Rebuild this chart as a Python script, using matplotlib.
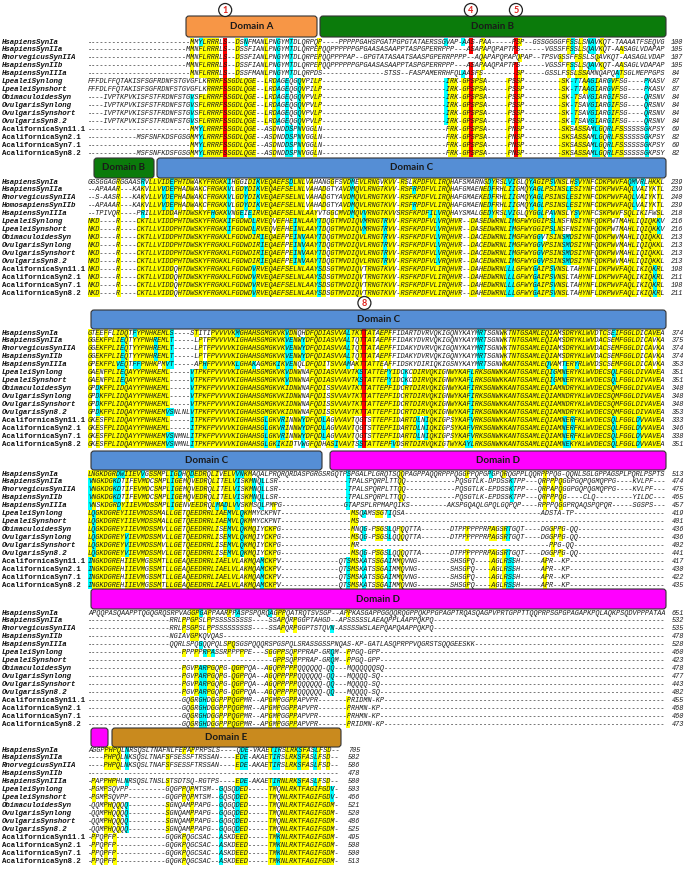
import matplotlib.pyplot as plt
from matplotlib.patches import FancyBboxPatch, Circle
from collections import Counter

# ---- data -------------------------------------------------------------
names = ["HsapiensSynIa", "HsapiensSynIIa", "RnorvegicusSynIIA", "HsapiensSynIIb",
         "HsapiensSynIIIa", "LpealeiSynlong", "LpealeiSynshort", "ObimaculoidesSyn",
         "OvulgarisSynlong", "OvulgarisSynshort", "OvulgarisSyn8.2",
         "AcalifornicaSyn11.1", "AcalifornicaSyn2.1", "AcalifornicaSyn7.1",
         "AcalifornicaSyn8.2"]
names_b2 = names[:3] + ["HomosapiensSynIIb"] + names[4:]

inv_a1 = "FFFDLFFQTAKISFSGFRDNFSTGVGFLKRRRFSSGDLQGE--LRDAGEQGQVPILP" + "-" * 30 + "IRK-GPSPSA-----PSSP" + "-" * 9 + "SK-TTAAGIARGVFSG----PKASV"
inv_a2 = "----IVPTKPVKISFSTFRDNFSTGVSFLRRRFSSGDLQGE--LRDAGEQGQVPVLP" + "-" * 30 + "IRK-GPSPSA-----PSSP" + "-" * 9 + "SK-TSAVGIARGIFSG----QRSNV"
inv_a3 = "-" * 25 + "MMYLRRRFSSGDLQGE--ASDNDDSPNVGGLN" + "-" * 30 + "FRK-GPSPSA-----PNSP" + "-" * 9 + "SKSASSAMLGQRLFSSSSSSGKPSY"
inv_a4 = "-" * 12 + "MSFSNFKDSFGSGMMYLRRRFSSGDLQGE--ASDNDDSPNVGGLN" + "-" * 30 + "FRK-GPSPSA-----PNSP" + "-" * 9 + "SKSASSAMLGQRLFSSSSSSGKPSY"
block_a = [
    "-" * 25 + "MMYLRRRLS--DSNFMANLPNGYMTDLQRPQP----PPPPPGAHSPGATPGPGTATAERSSGVAP-AAS-PAA-----PSP--GSSGGGGFFSSLSNAVKQT-TAAAATFSEQVG",
    "-" * 24 + "MMNFLRRRLS--DSSFIANLPNGYMTDLQRPEPQQPPPPPPGPGAASASAAPPTASPGPERRPPP---ASAPAPQPAPTPS------VGSSFFSSLSQAVKQT-AASAGLVDAPAP",
    "-" * 24 + "MMNFLRRRLS--DSSFIANLPNGYMTDLQRPEPQQPPPPAP--GPGTATASAATSAASPGPERRPPPP--AQAPAPQPAPQPAP--TPSVGSSFFSSLSQAVKQT-AASAGLVDAP",
    "-" * 24 + "MMNFLRRRLS--DSSFIANLPNGYMTDLQRPEPQQPPPPPPGPGAASASAAPPTASPGPERRPPP---ASAPAAQPAPTPS------VGSSFFSSLSQAVKQT-AASAGLVDAPAP",
    "-" * 25 + "MNFLRRRLS--DSSFMANLPNGYMTDLQRPDS" + "-" * 15 + "STSS--FASPAMERRHFQLAASFS" + "-" * 8 + "SP-----GSSLFSSLSSAMNQAPQATSGLMEPPGPS",
    inv_a1, inv_a1, inv_a2, inv_a2, inv_a2, inv_a2, inv_a3, inv_a4, inv_a3, inv_a4]

block_b = [
    "GGSGGAGRGGAASRVLLVIDEPHTDWAKYFRGKKIHGGIDIKVEQAEFSDLNLVAHANGGFSVDMEVLRNGVKVV-RSLKPDFVLIRQHAFSMARNGDYRSLVIGLQYAGIPSVNSLHSVYNFCDKPWVFAQMVRLHKKL",
    "--APAAAR---KAKVLLVVDEPHADWAKCFRGKKVLGDYDIKVEQAEFSELNLVAHADGTYAVDMQVLRNGTKVV-RSFRPDFVLIRQHAFGMAENEDFRHLIIGMQYAGLPSINSLESIYNFCDKPWVFAQLVAIYKTL",
    "--S-AASR---KAKVLLVVDEPHADWAKCFRGKKVLGDYDIKVEQAEFSELNLVAHADGTYAVDMQVLRNGTKVV-RSFKPDFVLIRQHAFGMAEKEDFRHLIIGMQYAGLPSINSLESIYNFCDKPWVFAQLVAIYKTL",
    "--APAAAR---KAKVLLVVDEPHADWAKCFRGKKVLGDYDIKVEQAEFSELNLVAHADGTYAVDMQVLRNGTKVV-RSFRPDFVLIRQHAFGMAENEDFRHLIIGMQYAGLPSINSLESIYNFCDKPWVFAQLVAIYKTL",
    "--TPIVQR----PRILLVIDDAHTDWSKYFHGKKVNGEIEIRVEQAEFSELNLAAYVTGGCMVDMQVVRNGTKVVSRSFKPDFILVRQHAYSMALGEDYRSLVIGLQYGGLPAVNSLYSVYNFCSKPWVFSQLIKIFWSL",
    "NKD----R----CKTLLVIDDPHTDWSKYFRGKKIFGDWDLRVEQVEFHEINLAAYTDQGTMVDIQVMRNGTRVV-RSFKPDFVLVRQHVR--DASEDWRNLIMGFWYGGIPSLNSFNSIYNFQDKPWTMAHLIQIQKKV",
    "NKD----R----CKTLLVIDDPHTDWSKYFRGKKIFGDWDLRVEQVEFHEINLAAYTDQGTMVDIQVMRNGTRVV-RSFKPDFVLVRQHVR--DASEDWRNLIMGFWYGGIPSLNSFNSIYNFQDKPWTMAHLIQIQKKV",
    "NKD----R----CKTLLVIDDPHTDWSKYFRGKKLFGDWDIRIEQAEFPEINVAAYTDQGTMVDIQVLRNGTRVV-RSFKPDFVLVRQHVR--DACEDWRNLIMGFWYGGVTSINSMDSIYNFQDKPWVMAHLIQIQKKL",
    "NKD----R----CKTLLVIDDPHTDWSKYFRGKKLFGDWDIRIEQAEFPEINVAAYTDQGTMVDIQVLRNGTRVV-RSFKPDFVLVRQHVR--DACEDWRNLIMGFWYGGVPSINSMDSIYNFQDKPWVMAHLIQIQKKL",
    "NKD----R----CKTLLVIDDPHTDWSKYFRGKKLFGDWDIRIEQAEFPEINVAAYTDQGTMVDIQVLRNGTRVV-RSFKPDFVLVRQHVR--DACEDWRNLIMGFWYGGVPSINSMDSIYNFQDKPWVMAHLIQIQKKL",
    "NKD----R----CKTLLVIDDPHTDWSKYFRGKKLFGDWDIRIEQAEFPEINVAAYTDQGTMVDIQVLRNGTRVV-RSFKPDFVLVRQHVR--DACEDWRNLIMGFWYGGVPSINSMDSIYNFQDKPWVMAHLIQIQKKL",
    "NKD----R----CKTLLVIDDQHTDWSKYFRGKKLFGDWDVRVEQAEFSELNLAAYSDSGTMVDIQVTRNGTKVV-RSFKPDFVLIRQHVR--DAHEDWRNLLLGFWYGAIPSVNSLTAHYNFLDKPWVFAQLIKIQKRL",
    "NKD----R----CKTLLVIDDQHTDWSKYFRGKKLFGDWDVRVEQAEFSELNLAAYSDSGTMVDIQVTRNGTKVV-RSFKPDFVLIRQHVR--DAHEDWRNLLLGFWYGAIPSVNSLTAHYNFLDKPWVFAQLIKIQKRL",
    "NKD----R----CKTLLVIDDQHTDWSKYFRGKKLFGDWDVRVEQAEFSELNLAAYSDSGTMVDIQVTRNGTKVV-RSFKPDFVLIRQHVR--DAHEDWRNLLLGFWYGAIPSVNSLTAHYNFLDKPWVFAQLIKIQKRL",
    "NKD----R----CKTLLVIDDQHTDWSKYFRGKKLFGDWDVRVEQAEFSELNLAAYSDSGTMVDIQVTRNGTKVV-RSFKPDFVLIRQHVR--DAHEDWRNLLLGFWYGAIPSVNSLTAHYNFLDKPWVFAQLIKIQKRL"]

right_c1 = "ATAEPFFIDAKYDVRVQKIGQNYKAYMRTSGNWKTNTGSAMLEQIAMSDRYKLWVDACSEMFGGLDICAVKA"
right_c2 = "ATTEPYIDCKCDIRVQKIGNWYKAFLRKSGNWKKANTGSAMLEQIGMNERYKLWVDECSQLFGGLDIVAVEA"
right_c3 = "ATTEPFIDCRTDIRVQKIGNWYKAFIRKSGNWKKANTGSAMLEQIAMNDRYKLWVDECSQMFGGLDIVAVEA"
right_c4 = "STTEPFIDARTDLNIQKIGPSYKAFVRKSGNWKKANTGSAMLEQIAMNERFKLWVDECSQLFGGLDVVAVEA"
block_c = [
    "GTEEFFLIDQTFYPNHKEMLS----STITIPVVVVKMGHAHSGMGKVKVDNQHDFQDIASVVALTKTT" + "ATAEPFFIDARTDVRVQKIGQNYKAYMRTSGNWKTNTGSAMLEQIAMSDRYKLWVDTCSEIFGGLDICAVEA",
    "GGEKFPLIEQTYYPNHREMLT-----LPTFPVVVVKIGHAHSGMGKVKVENWYDFQDIASVVALTQTT" + right_c1,
    "GGEKFPLIEQTYYPNHREMLT-----LPTFPVVVVKIGHAHSGMGKVKVENWYDFQDIASVVALTQTT" + right_c1,
    "GGEKFPLIEQTYYPNHREMLT-----LPTFPVVVVKIGHAHSGMGKVKVENWYDFQDIASVVALTQTT" + right_c1,
    "GPEKFPLVEQTFFPNHKPMVT-----APHFPVVVVKLGHAKAGMGKIKVENQLDFQDITSVVAMAKTT" + "ATTEAFFIDSKYDIRIQKIGSNYKAYMRTSGNWKANTGSAMLEQVAMTERYRLWVDSCSEMFGGLDICAVKA",
    "GAENFPLIEQAYYPNHKEML-----VTPKFPVVVVKIGHAHSGMGKVKVDNWNAFQDIASVVAVTKST" + right_c2,
    "GAENFPLIEQAYYPNHKEML-----VTPKFPVVVVKIGHAHSGMGKVKVDNWNAFQDIASVVAVTKST" + right_c2,
    "GPDKFPLIDQAYYPNHKEML-----VTPKFPVVVVKIGHAHSGMGKVKIDNWNAFQDISSVVAVTKTT" + right_c3,
    "GPDKFPLIDQAYYPNHKEML-----VTPKFPVVVVKIGHAHSGMGKVKIDNWNAFQDISSVVAVTKTT" + right_c3,
    "GPDKFPLIDQAYYPNHKEML-----VTPKFPVVVVKIGHAHSGMGKVKIDNWNAFQDISSVVAVTKTT" + right_c3,
    "GPDKFPLIDQAYYPNHKEMVSNLNLVTPKFPVVVVKIGHAHSGMGKVKIDNWNAFQDISSVVAVTKTT" + right_c3,
    "GKESFPLIDQAYYPNHKEML-----ITPKFPVVVVKIGHAHSGLGKVRINNWYDFQDLAGVVAVTQGT" + right_c4,
    "GKESFPLIDQAYYPNHKEML-----ITPKFPVVVVKIGHAHSGLGKVRINNWYDFQDLAGVVAVTQGT" + right_c4,
    "GKESFPLIDQAYYPNHKEMVSNMNLITPKFPVVVVKIGHAHSGLGKVRINNWYDFQDLAGVVAVTQGT" + right_c4,
    "GKESFPLIDQAYYPNHKEMVSNMNLITPKFPVVVVKIGHAHSGLGKIKIDTVWGFQDHASIVAVTSST" + "ATTEPFVDSRTDIRVQKIGTWYKAYLRKSGNWKKANTGSAMLEQIAMNEKYKLWVDECSQLFGGLDVVAVEA"]

acal_d = "INGKDGREHIIEVMGSSMTLLGEAQEEDRRLIAELVLAKMQAMCKPV" + "-" * 14 + "QTSMSKATSSGAIMMQVNG" + "-" * 8 + "SHSGPQ----AGLRSSH-----APR--KP" + "-" * 23
ovul_d = "LQGKDGREYVIEVMDSSMVLLGETQEEDRRLISEMVLQKMQIYCKPG" + "-" * 17 + "MSQG-PSGSLQQQQTTA" + "-" * 7 + "DTPPPPPPRPAGSRTGQT----DGGPPG-QQ" + "-" * 21
block_d = [
    "LNGKDGRDWIIEVVGSSMPLIGDHQDEDRQLIVELVVNKMAQALPRQRQRDASPGRGSRGQTPSPGALPLGRQTSQQPAGPPAQQRPPPQGGPPQPGPGPQRQGPPLQQRPPPQG-QQNLSGLGPPAGSPLPQRLPSPTS",
    "VNGKDGKDTIFEVMDCSMPLIGEMQVEDRQLITELVISKMNQLLSR" + "-" * 17 + "TPALSPQRPLTTQQ" + "-" * 12 + "PQSGTLK-DPDSSKTPP---QRPPPQGGPGQPQGMQPPG----KVLPF---",
    "VNGKDGKDTIFEVMDCSMPLIGEMQVEDRQLITELVISKMNQLLSR" + "-" * 17 + "TPALSPQRPLTTQQ" + "-" * 12 + "PQSGTLK-EPDSSKTPP---QRPAPQGGPGQPQGMQPPG----KVLPF---",
    "VNGKDGKDTIFEVMDCSMPLIGEMQVEDRQLITELVISKMNQLLSR" + "-" * 17 + "TPALSPQRPLTTQQ" + "-" * 12 + "PQSGTLK-EPDSSKTPP---QRPPPQG----CLQ---------YILDC---",
    "VNSKDGRDYIIEVMDSSMPLIGENVEEDRQLMADLVVSKMSQLPMPG" + "-" * 15 + "GTAPSPLRPMAPQIKS" + "-" * 9 + "AKSPGQAQLGPQLGQPQP----RPPPQGGPRQAQSPQPQR-----SGSPS---",
    "LQGKDGREYIIEVMDSSMALLGETQEEDRRLIAEMVLQKMMYCKPNT" + "-" * 17 + "MSQAMSSGTIQSA" + "-" * 33 + "ADSTA-TP" + "-" * 22,
    "LQGKDGREYIIEVMDSSMALLGETQEEDRRLIAEMVLQKMMYCKPNT" + "-" * 17 + "MS" + "-" * 74,
    "LQGKDGREYIIEVMDSSMVLLGETQEEDRRLISEMVLQKMQIYCKPG" + "-" * 17 + "MNQG-PSGSLQPQQTTA" + "-" * 7 + "DTPPPPPPRPAGSRTGQT----DGGPPG-QQ" + "-" * 21,
    ovul_d,
    "LQGKDGREYVIEVMDSSMVLLGETQEEDRRLISEMVLQKMQIYCKPG" + "-" * 17 + "MR" + "-" * 46 + "PPG-QQ" + "-" * 22,
    ovul_d, acal_d, acal_d, acal_d, acal_d]

ovul_e = "-" * 23 + "PGVPARPGQPG-QGPPQA--AGQPPPPPQQQQQQ-QQ---MQQQQ-SQ" + "-" * 69
block_e = [
    "APQQPASQAAPPTQGQGRQSRPVAGGPGAPPAARPPASPSPQRQAGPPQATRQTSVSGP--APPKASGAPPGGQQRQGPPQKPPGPAGPTRQASQAGPVPRTGPPTTQQPRPSGPGPAGAPKPQLAQKPSQDVPPPATAA",
    "-" * 20 + "RRLPPGPSLPPSSSSSSSSS----SSAPQRPGGPTAHGD--APSSSSSLAEAQPPLAAPPQKPQ" + "-" * 56,
    "-" * 20 + "RRLPSGPSLPPSSSSSSSSS----SSAPQRPGGPTSTQVN-ASSSSWSLAEPQAPQAAPPQKPQ" + "-" * 56,
    "-" * 20 + "NGIAVGPKQVQAS" + "-" * 107,
    "-" * 20 + "QQRLSPQGQQPQLSPQSGSPQQQRSPGSPQLSRASSGSSPNQAS-KP-GATLASQPRPPVQGRSTSQQGEESKK" + "-" * 46,
    "-" * 23 + "PPPPPRPASSRPPPPPE---SGGPPSQPPPRAP-GRQM--PPGQ-GPP" + "-" * 69,
    "-" * 45 + "GPPSQPPPRAP-GRQM--PPGQ-GPP" + "-" * 69,
    "-" * 23 + "PGVPARPGQPG-QGPPQA--AGQPPPPPQQQQQQ-QQ---MQQQQQQSQ" + "-" * 68,
    ovul_e, ovul_e, ovul_e,
    "-" * 23 + "GQGRGHDGGPPPQGPMR--APGMPGGPPAPVPR-------PRIDMN-KP" + "-" * 68,
    "-" * 23 + "GQGRGHDGGPPPQGPMR--APGMPGGPPAPVPR-------PRHMN-KP" + "-" * 69,
    "-" * 23 + "GQGRGHDGGPPPQGPMR--APGMPGGPPAPVPR-------PRHMN-KP" + "-" * 69,
    "-" * 23 + "GQGRGHDGGPPPQGPMR--APGMPGGPPAPVPR-------PRIDMN-KP" + "-" * 68]

inv_f1 = "-PGMPSQVPP---------GQGPPQPMTSM--GQSQDED-----TMQNLRKTFAGIFGDV"
inv_f2 = "-QQMPHQQQQ---------SGNQAMPPAPG--GQGQDED-----TMQNLRKTFAGIFGDM"
inv_f3 = "-PPQPFP------------GQGKPQGCSAC--ASKDEED-----TMKNLRKTFAGIFGDM"
block_f = [
    "AGGPPHPQLNRSQSLTNAFNLFEPAPPRPSLS----QDE-VKAETIRSLRKSFASLFSD-",
    "----PHPQLNKSQSLTNAFSFSESSFTRSSAN----EDE-AKAETIRSLRKSFASLFSD-",
    "----PHPQLNKSQSLTNAFSFSESSFTRSSAN----EDE-AKAETIRSLRKSFASLFSD-",
    "-" * 60,
    "-PAPPHPHLNRSQSLTNSLSTSDTSQ-RGTPS----EDE-AKAETIRNLRKSFASLFSD-",
    inv_f1, inv_f1, inv_f2, inv_f2, inv_f2, inv_f2, inv_f3, inv_f3, inv_f3, inv_f3]

ends_a = [100, 105, 107, 105, 84, 87, 87, 84, 84, 84, 84, 69, 82, 69, 82]
ends_b = [239, 239, 240, 239, 218, 216, 216, 213, 213, 213, 213, 198, 211, 198, 211]
ends_c = [374, 375, 374, 374, 353, 351, 351, 348, 348, 348, 353, 333, 346, 338, 351]
ends_d = [513, 474, 475, 465, 457, 419, 401, 436, 436, 402, 441, 417, 430, 422, 435]
ends_e = [651, 532, 535, 478, 528, 460, 423, 478, 477, 443, 482, 455, 468, 460, 473]
ends_f = [705, 582, 586, 478, 580, 503, 466, 521, 520, 486, 525, 495, 508, 500, 513]

# phosphorylation sites: (block, column, label, rows)
sites = [(0, 33, "1", list(range(15))),
         (0, 93, "4", [0, 1, 3] + list(range(4, 15))),
         (0, 104, "5", [0, 1, 3] + list(range(4, 15))),
         (2, 67, "8", list(range(15)))]

# ---- layout -----------------------------------------------------------
blocks = [block_a, block_b, block_c, block_d, block_e, block_f]
ends = [ends_a, ends_b, ends_c, ends_d, ends_e, ends_f]
row_names = [names, names_b2, names, names, names, names]
widths = [140, 140, 140, 140, 140, 61]
row0 = [42, 182, 333, 474, 613, 750]
step = 7.93
x0, cw = 88.0, 4.095
seq_fs = cw / 0.8333

domains = [  # label, x-left, x-right, y-top, y-bottom, colour
    ("Domain A", 186, 317, 16, 37, "#F79646"),
    ("Domain B", 320, 666, 16, 37, "#0B7B0B"),
    ("Domain B", 94, 154, 158, 178, "#0B7B0B"),
    ("Domain C", 157, 666, 158, 178, "#558ED5"),
    ("Domain C", 91, 666, 310, 329, "#558ED5"),
    ("Domain C", 91, 322, 451, 470, "#558ED5"),
    ("Domain D", 330, 666, 451, 470, "#FF00FF"),
    ("Domain D", 91, 666, 589, 609, "#FF00FF"),
    ("", 91, 108, 728, 747, "#FF00FF"),
    ("Domain E", 112, 341, 728, 747, "#C98A1E"),
]
circle_y = {0: 10, 2: 303}

groups = ["ILVM", "FYW", "KRH", "DE", "ST", "NQ", "AG"]


def grp(ch):
    for g in groups:
        if ch in g:
            return g
    return ch


def fit(s, n):
    return (s + "-" * n)[:n]


def shade(rows, need=7):
    n = len(rows[0])
    marks = [[""] * n for _ in rows]
    for c in range(n):
        col = [r[c] for r in rows]
        res = [ch for ch in col if ch != "-"]
        if not res:
            continue
        top, k = Counter(res).most_common(1)[0]
        if k >= need:
            for i, ch in enumerate(col):
                if ch == top:
                    marks[i][c] = "y"
                elif ch != "-" and len(grp(top)) > 1 and grp(ch) == grp(top):
                    marks[i][c] = "c"
        else:
            g, k2 = Counter(grp(ch) for ch in res).most_common(1)[0]
            if k2 >= need and len(g) > 1:
                for i, ch in enumerate(col):
                    if ch != "-" and grp(ch) == g:
                        marks[i][c] = "c"
    return marks


def runs(flags, key):
    out, c = [], 0
    while c < len(flags):
        if flags[c] == key:
            s = c
            while c < len(flags) and flags[c] == key:
                c += 1
            out.append((x0 + s * cw, (c - s) * cw))
        else:
            c += 1
    return out


fig = plt.figure(figsize=(6.85, 8.71), dpi=100)
ax = fig.add_axes([0, 0, 1, 1])
ax.set_xlim(0, 685)
ax.set_ylim(871, 0)
ax.axis("off")

for b, rows in enumerate(blocks):
    rows = [fit(r, widths[b]) for r in rows]
    marks = shade(rows)
    for i, seq in enumerate(rows):
        y = row0[b] + i * step
        for key, colr in (("y", "#FFFF00"), ("c", "#00FFFF")):
            r = runs(marks[i], key)
            if r:
                ax.broken_barh(r, (y - step / 2, step), facecolors=colr, zorder=1)
        ax.text(x0, y, seq, family="Liberation Mono", style="italic",
                fontsize=seq_fs, color="#1a1a1a", va="center", ha="left", zorder=3)
        nm = row_names[b][i]
        ax.text(2, y, nm, family="Liberation Mono", weight="bold",
                style="normal" if nm.startswith("Acal") else "italic",
                fontsize=5.3, color="#111111", va="center", ha="left", zorder=3)
        xe = x0 + widths[b] * cw + 10
        ax.text(xe, y, str(ends[b][i]), family="Liberation Mono", style="italic",
                fontsize=seq_fs, color="#1a1a1a", va="center", ha="left", zorder=3)

for b, col, lab, rws in sites:
    for i in rws:
        y = row0[b] + i * step
        ax.broken_barh([(x0 + col * cw, cw)], (y - step / 2, step),
                       facecolors="#FF0000", zorder=2)
    xc = x0 + (col + 0.5) * cw
    ax.add_patch(Circle((xc, circle_y[b]), 6.5, facecolor="white",
                        edgecolor="#222222", lw=0.9, zorder=4))
    ax.text(xc, circle_y[b] + 0.3, lab, color="#E0201B", fontsize=6.5,
            weight="bold", ha="center", va="center", family="Lato", zorder=5)

for lab, xa, xb, ya, yb, colr in domains:
    ax.add_patch(FancyBboxPatch((xa, ya), xb - xa, yb - ya,
                                boxstyle="round,pad=0,rounding_size=3",
                                facecolor=colr, edgecolor="#333333", lw=0.8, zorder=2))
    if lab:
        ax.text((xa + xb) / 2, (ya + yb) / 2, lab, fontsize=7, weight="bold",
                family="Lato", color="#1a1a1a", ha="center", va="center", zorder=3)

fig.savefig("out.png", dpi=100)
